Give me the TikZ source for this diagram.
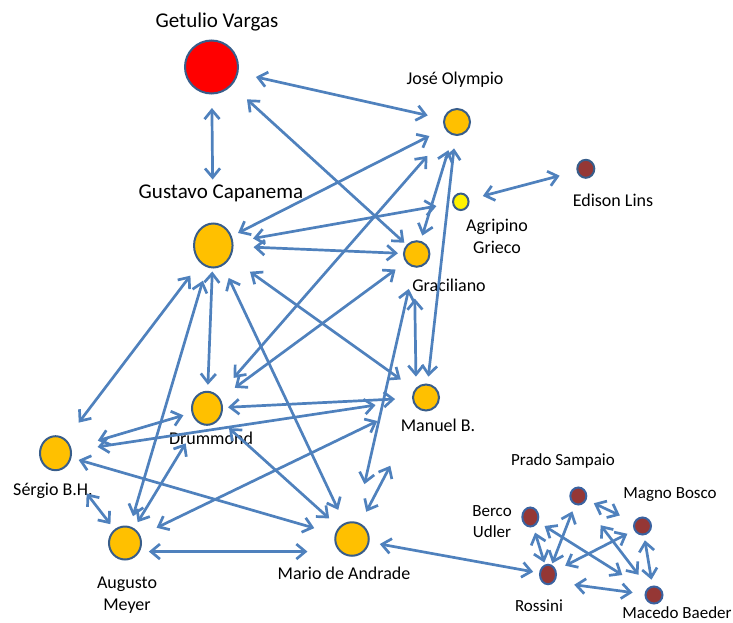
\documentclass[tikz,border=0pt]{standalone}
\usepackage{fontspec}
\setmainfont{Carlito}
\usepackage{tikz}
\usetikzlibrary{shapes.geometric}
\usetikzlibrary{arrows.meta}
\definecolor{laranja}{HTML}{FFC000}
\definecolor{borda}{HTML}{385D8A}
\definecolor{bordaazul}{HTML}{3A62A0}
\definecolor{azul}{HTML}{4F81BD}
\definecolor{vinho}{HTML}{953735}
\tikzset{
  pessoa/.style={ellipse,draw=borda,line width=2pt,inner sep=0pt},
  grupo/.style={ellipse,draw=bordaazul,line width=2pt,inner sep=0pt,fill=vinho},
  liga/.style={<->,>={Straight Barb[length=9pt,width=15pt]},draw=azul,line width=2.7pt},
  rotulo/.style={font=\fontsize{18}{22}\selectfont,align=center,inner sep=0pt},
  rotulop/.style={font=\fontsize{17}{21}\selectfont,align=center,inner sep=0pt},
  rotulogrande/.style={font=\fontsize{21}{25}\selectfont,inner sep=0pt}
}
\begin{document}
\begin{tikzpicture}[x=1pt,y=-1pt]
  \useasboundingbox (0,0) rectangle (733,623);
  % pessoas
  \node[pessoa,fill=red,minimum width=53pt,minimum height=53pt] (gv) at (211.5,67) {};
  \node[pessoa,fill=laranja,minimum width=38.5pt,minimum height=44pt] (gc) at (213.3,245.5) {};
  \node[pessoa,fill=laranja,minimum width=26pt,minimum height=26pt] (jo) at (457,122) {};
  \node[pessoa,fill=yellow,minimum width=15.5pt,minimum height=16.5pt] (ag) at (460.8,201.8) {};
  \node[pessoa,fill=vinho,minimum width=17pt,minimum height=18pt] (el) at (585.8,168.8) {};
  \node[pessoa,fill=laranja,minimum width=25.5pt,minimum height=25.5pt] (gr) at (416.7,254) {};
  \node[pessoa,fill=laranja,minimum width=26pt,minimum height=26pt] (mb) at (426,397.5) {};
  \node[pessoa,fill=laranja,minimum width=30pt,minimum height=33pt] (dr) at (207,408.3) {};
  \node[pessoa,fill=laranja,minimum width=31pt,minimum height=34pt] (sb) at (55.5,453.2) {};
  \node[pessoa,fill=laranja,minimum width=32pt,minimum height=33pt] (am) at (125,543) {};
  \node[pessoa,fill=laranja,minimum width=33.5pt,minimum height=33.5pt] (ma) at (352,539) {};
  \node[grupo,minimum width=16pt,minimum height=19pt] (bu) at (530.3,517) {};
  \node[grupo,minimum width=16pt,minimum height=17pt] (ps) at (578.3,496) {};
  \node[grupo,minimum width=17pt,minimum height=17pt] (mg) at (642.5,526) {};
  \node[grupo,minimum width=16pt,minimum height=19.5pt] (ro) at (548,574.5) {};
  \node[grupo,minimum width=17pt,minimum height=17pt] (md) at (654,595) {};
  % nomes
  \node[rotulogrande] (gvnome) at (217,22) {Getulio Vargas};
  \node[rotulogrande] (gcnome) at (221,193) {Gustavo Capanema};
  \node[rotulo] (jonome) at (455,80) {José Olympio};
  \node[rotulo] (agnome) at (497,236) {Agripino\\Grieco};
  \node[rotulo] (elnome) at (613,200) {Edison Lins};
  \node[rotulo] (grnome) at (449,285) {Graciliano};
  \node[rotulo] (mbnome) at (438,425) {Manuel B.};
  \node[rotulo] (drnome) at (211,438) {Drummond};
  \node[rotulo] (sbnome) at (53,491) {Sérgio B.H.};
  \node[rotulo] (amnome) at (127,595) {Augusto\\Meyer};
  \node[rotulo] (manome) at (344,573) {Mario de Andrade};
  \node[rotulop] (psnome) at (563,461) {Prado Sampaio};
  \node[rotulop] (mgnome) at (670,495) {Magno Bosco};
  \node[rotulop] (bunome) at (492,522) {Berco\\Udler};
  \node[rotulop] (ronome) at (539,606) {Rossini};
  \node[rotulop] (mdnome) at (677,613) {Macedo Baeder};
  % ligacoes
  \draw[liga,shorten <=18pt,shorten >=16pt] (gv) -- (jo);
  \draw[liga,shorten <=13.5pt,shorten >=43pt] (gv) -- (gc);
  \draw[liga,shorten <=20.5pt,shorten >=3pt] (gv) -- (gr);
  \draw[liga,shorten <=7pt,shorten >=17pt] (gc) -- (jo);
  \draw[liga,shorten <=20pt,shorten >=16pt] (gc) -- (ag);
  \draw[liga,shorten <=20pt,shorten >=5pt] (gc) -- (gr);
  \draw[liga,shorten <=15.5pt,shorten >=5.5pt] (jo) -- (gr);
  \draw[liga,shorten <=12.5pt,shorten >=7pt] (jo) -- (mb);
  \draw[liga,shorten <=31pt,shorten >=23.5pt] (jo) -- (dr);
  \draw[liga,shorten <=12.5pt,shorten >=18pt] (gr) -- (dr);
  \draw[liga,shorten <=31pt,shorten >=11pt] (gr.-100) -- (mb.135);
  \draw[liga,shorten <=22pt,shorten >=38.5pt] (gr) -- (ma);
  \draw[liga,shorten <=3pt,shorten >=6pt] (gc) -- (dr);
  \draw[liga,shorten <=24pt,shorten >=17pt] (gc) -- (mb);
  \draw[liga,shorten <=13.5pt,shorten >=14.5pt] (gc) -- (ma);
  \draw[liga,shorten <=16pt,shorten >=21pt] (gc) -- (sb);
  \draw[liga,shorten <=14pt,shorten >=10.5pt] (gc) -- (am);
  \draw[liga,shorten <=27.5pt,shorten >=8.5pt] (sb) -- (dr);
  \draw[liga,shorten <=5pt,shorten >=17pt] (dr) -- (mb);
  \draw[liga,shorten <=26pt,shorten >=37pt] (sb) -- (mb);
  \draw[liga,shorten <=7.5pt,shorten >=21.5pt] (sb) -- (ma);
  \draw[liga,shorten <=24pt,shorten >=7pt] (dr) -- (am);
  \draw[liga,shorten <=13pt,shorten >=13pt] (dr) -- (ma);
  \draw[liga,shorten <=33.5pt,shorten >=6.5pt] (sb) -- (am);
  \draw[liga,shorten <=9pt,shorten >=32pt] (am.-30) -- (ma.-135);
  \draw[liga,shorten <=18pt,shorten >=40pt] (am) -- (mb);
  \draw[liga,shorten <=13pt,shorten >=63pt] (ma) -- (mb);
  \draw[liga,shorten <=14pt,shorten >=17.5pt] (ag) -- (el);
  \draw[liga,shorten <=10.5pt,shorten >=6pt] (ma) -- (ro);
  % grupo de baixo
  \draw[liga,shorten <=6pt,shorten >=2pt] (bu) -- (ro);
  \draw[liga,shorten <=7pt,shorten >=1.5pt] (ps) -- (ro);
  \draw[liga,shorten <=8pt,shorten >=15.5pt] (ps) -- (mg);
  \draw[liga,shorten <=27.5pt,shorten >=16pt] (ps) -- (md);
  \draw[liga,shorten <=7.5pt,shorten >=28pt] (bu) -- (md);
  \draw[liga,shorten <=7.5pt,shorten >=10pt] (mg) -- (ro);
  \draw[liga,shorten <=5pt,shorten >=6pt] (mg) -- (md);
  \draw[liga,shorten <=20pt,shorten >=12pt] (ro.-50) -- (md.175);
\end{tikzpicture}
\end{document}
